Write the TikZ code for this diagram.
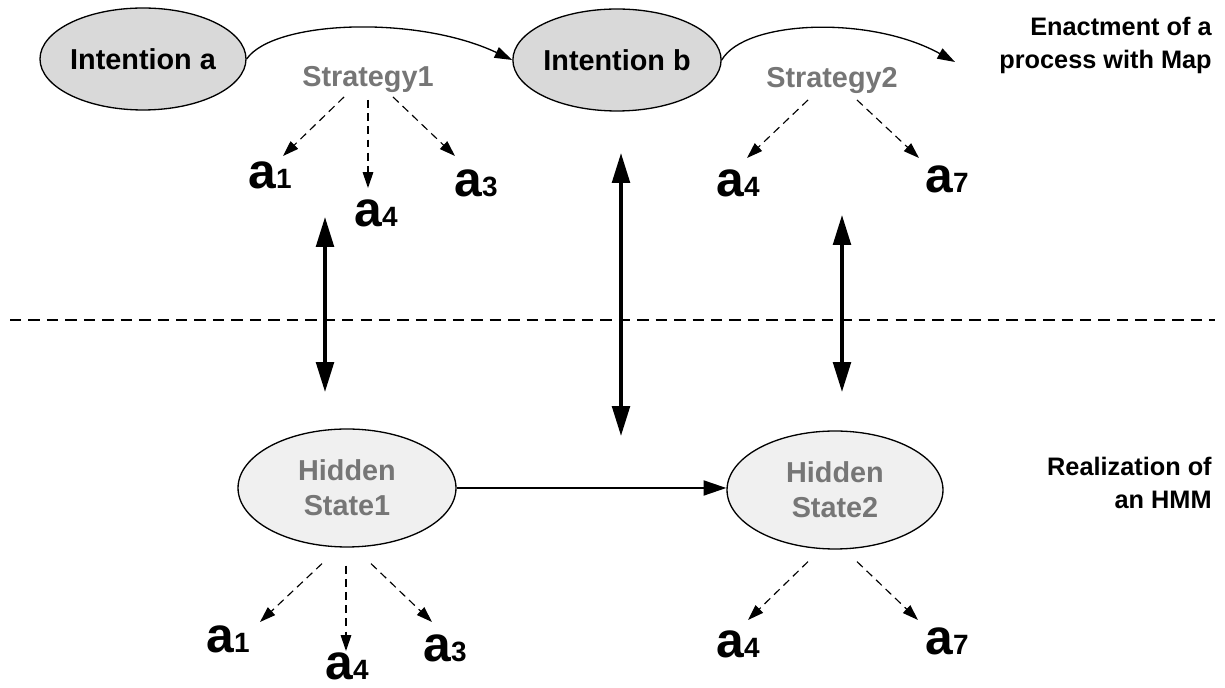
\documentclass[tikz,border=0pt]{standalone}
\usepackage{fontspec}
\setmainfont{Liberation Sans}
\usetikzlibrary{shapes.geometric,arrows.meta,calc}
\definecolor{intfill}{RGB}{217,217,217}
\definecolor{hidfill}{RGB}{240,240,240}
\definecolor{graytext}{RGB}{118,118,118}
\newcommand{\alab}[1]{{\fontsize{28.3pt}{30pt}\selectfont a}{\fontsize{15.9pt}{18pt}\selectfont #1}}
\begin{document}
\begin{tikzpicture}[x=0.02cm,y=-0.02cm,font=\bfseries,
  intent/.style={ellipse,draw=black,line width=0.75pt,fill=intfill,minimum width=4.08cm,minimum height=2.04cm,inner sep=0pt,font=\bfseries\fontsize{16.4pt}{19.8pt}\selectfont},
  hidden/.style={ellipse,draw=black,line width=0.75pt,fill=hidfill,minimum width=4.36cm,minimum height=2.36cm,inner sep=0pt,text=graytext,align=center,font=\bfseries\fontsize{16.4pt}{19.8pt}\selectfont},
  strat/.style={text=graytext,anchor=base,inner sep=0pt,font=\bfseries\fontsize{16.4pt}{19.8pt}\selectfont},
  act/.style={anchor=base,inner sep=0pt},
  side/.style={anchor=base east,inner sep=0pt,font=\bfseries\fontsize{14.4pt}{18.7pt}\selectfont},
  dasharrow/.style={line width=0.65pt,dash pattern=on 4.5pt off 3pt,-{Triangle[length=9pt,width=6pt]}},
  flowarrow/.style={line width=0.75pt,-{Triangle[length=10pt,width=6.5pt]}},
  trans/.style={line width=1.25pt,-{Triangle[length=13pt,width=8.5pt]}},
  link/.style={line width=2pt,{Triangle[length=17pt,width=10pt]}-{Triangle[length=17pt,width=10pt]}},
  sep/.style={line width=0.75pt,dash pattern=on 6.5pt off 4pt}
]
\useasboundingbox (0,0) rectangle (1225,688);

% upper level
\node[intent] (ia) at (143,59) {Intention a};
\node[intent] (ib) at (617,60) {Intention b};
\node[strat] (s1) at (368,87) {Strategy1};
\node[strat] (s2) at (832,88) {Strategy2};
\coordinate (flowend) at (955,62);

\draw[flowarrow] (ia.east) .. controls +(27,-39) and +(-95,-45) .. (ib.west);
\draw[flowarrow] (ib.east) .. controls +(23,-40) and +(-85,-47) .. (flowend);

\node[act] (t1) at (270,189) {\alab{1}};
\node[act] (t4) at (376,227) {\alab{4}};
\node[act] (t3) at (476,197) {\alab{3}};
\node[act] (u4) at (738,197) {\alab{4}};
\node[act] (u7) at (947,193) {\alab{7}};

\draw[dasharrow] ($(s1.base)+(-24,10)$) -- ($(t1.base)+(13,-33)$);
\draw[dasharrow] ($(s1.base)+(0,13)$) -- ($(t4.base)+(-8,-39)$);
\draw[dasharrow] ($(s1.base)+(25,10)$) -- ($(t3.base)+(-21,-41)$);
\draw[dasharrow] ($(s2.base)+(-24,12)$) -- ($(u4.base)+(9,-39)$);
\draw[dasharrow] ($(s2.base)+(25,12)$) -- ($(u7.base)+(-28,-35)$);

\node[side] (en1) at (1212,36) {Enactment of a};
\node[side] (en2) at (1212,69) {process with Map};

% separator
\coordinate (sepl) at (10,320);
\coordinate (sepr) at (1215,320);
\draw[sep] (sepl) -- (sepr);

% links between levels
\coordinate (l1t) at (325,217); \coordinate (l1b) at (325,392);
\coordinate (l2t) at (621,153); \coordinate (l2b) at (621,436);
\coordinate (l3t) at (842,215); \coordinate (l3b) at (842,392);
\draw[link] (l1t) -- (l1b);
\draw[link] (l2t) -- (l2b);
\draw[link] (l3t) -- (l3b);

% lower level
\node[hidden] (h1) at (347,488) {Hidden\\State1};
\node[hidden,minimum width=4.32cm] (h2) at (835,490) {Hidden\\State2};
\draw[trans] (h1.east) -- (h1.east -| h2.west);

\node[act] (b1) at (228,653) {\alab{1}};
\node[act] (b4) at (347,680) {\alab{4}};
\node[act] (b3) at (445,662) {\alab{3}};
\node[act] (c4) at (738,658) {\alab{4}};
\node[act] (c7) at (947,655) {\alab{7}};

\draw[dasharrow] ($(h1.south)+(-25,16)$) -- ($(b1.base)+(32,-31)$);
\draw[dasharrow] ($(h1.south)+(-1,18)$) -- ($(b4.base)+(-1,-29)$);
\draw[dasharrow] ($(h1.south)+(24,16)$) -- ($(b3.base)+(-13,-40)$);
\draw[dasharrow] ($(h2.south)+(-27,12)$) -- ($(c4.base)+(10,-38)$);
\draw[dasharrow] ($(h2.south)+(22,12)$) -- ($(c7.base)+(-29,-35)$);

\node[side] (re1) at (1212,476) {Realization of};
\node[side] (re2) at (1212,509) {an HMM};
\end{tikzpicture}
\end{document}
